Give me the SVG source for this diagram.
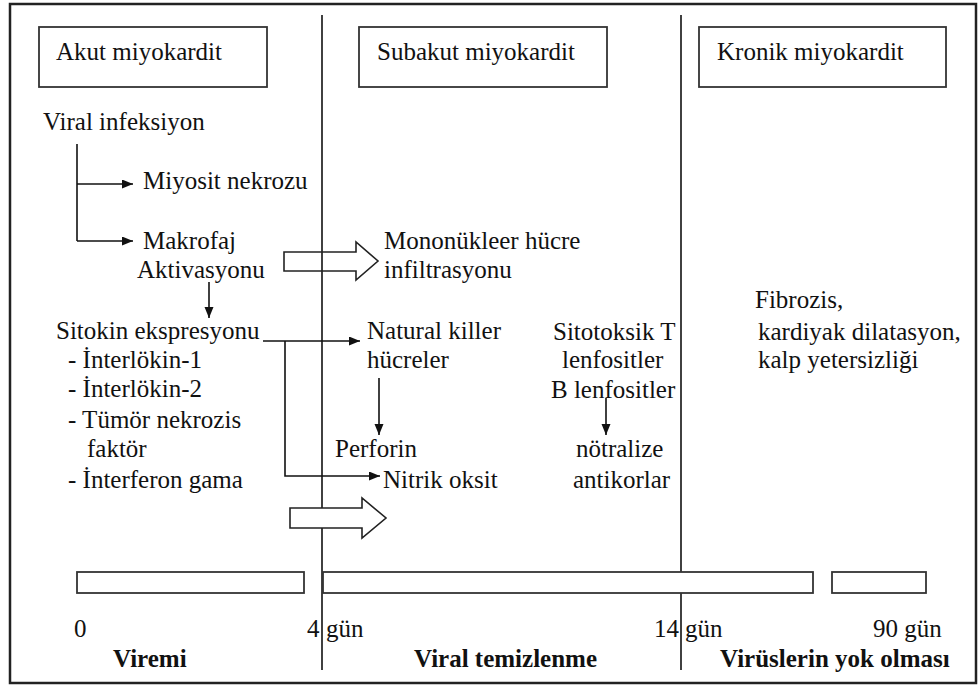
<svg xmlns="http://www.w3.org/2000/svg" width="979" height="686" viewBox="0 0 979 686">
<style>
text{font-family:"Liberation Serif","Times New Roman",serif;font-size:25px;fill:#111}
.b{font-weight:bold}
.ln{stroke:#111;stroke-width:1.6;fill:none}
.box{stroke:#333;stroke-width:1.8;fill:#fff}
.bar{stroke:#333;stroke-width:1.8;fill:#fff}
</style>
<defs>
<marker id="ah" markerUnits="userSpaceOnUse" markerWidth="12" markerHeight="10" refX="11" refY="4.5" orient="auto">
<path d="M0,0 L11,4.5 L0,9 Z" fill="#111"/>
</marker>
</defs>
<rect x="0" y="0" width="979" height="686" fill="#fff"/>
<rect x="10" y="4" width="966" height="679" fill="none" stroke="#222" stroke-width="2.5"/>
<g id="dividers">
<line class="ln" x1="322" y1="15" x2="322" y2="670"/>
<line class="ln" x1="681" y1="15" x2="681" y2="670"/>
</g>
<g id="akut"><rect class="box" x="39" y="27" width="228" height="60"/><text x="56" y="60">Akut miyokardit</text></g>
<g id="subakut"><rect class="box" x="359" y="27" width="248" height="60"/><text x="377" y="60">Subakut miyokardit</text></g>
<g id="kronik"><rect class="box" x="699" y="27" width="247" height="60"/><text x="717" y="60">Kronik miyokardit</text></g>
<g id="viral"><text x="43" y="130">Viral infeksiyon</text></g>
<g id="miyosit"><text x="143" y="189">Miyosit nekrozu</text></g>
<g id="makrofaj"><text x="143" y="249">Makrofaj</text><text x="137" y="278">Aktivasyonu</text></g>
<g id="mononukleer"><text x="384" y="249">Mononükleer hücre</text><text x="384" y="278">infiltrasyonu</text></g>
<g id="sitokin">
<text x="56" y="339">Sitokin ekspresyonu</text>
<text x="68" y="368">- İnterlökin-1</text>
<text x="68" y="397">- İnterlökin-2</text>
<text x="68" y="428">- Tümör nekrozis</text>
<text x="87" y="457">faktör</text>
<text x="68" y="488">- İnterferon gama</text>
</g>
<g id="nk"><text x="367" y="339">Natural killer</text><text x="367" y="368">hücreler</text></g>
<g id="perforin"><text x="335" y="457">Perforin</text></g>
<g id="nitrik"><text x="383" y="488">Nitrik oksit</text></g>
<g id="tlenf"><text x="553" y="340">Sitotoksik T</text><text x="562" y="368">lenfositler</text></g>
<g id="blenf"><text x="551" y="398">B lenfositler</text></g>
<g id="notralize"><text x="576" y="457">nötralize</text><text x="573" y="488">antikorlar</text></g>
<g id="fibrozis"><text x="755" y="308">Fibrozis,</text><text x="758" y="340">kardiyak dilatasyon,</text><text x="758" y="368">kalp yetersizliği</text></g>
<g id="connectors">
<polyline class="ln" points="77,144 77,241"/>
<line class="ln" x1="77" y1="184" x2="133" y2="184" marker-end="url(#ah)"/>
<line class="ln" x1="77" y1="241" x2="133" y2="241" marker-end="url(#ah)"/>
<line class="ln" x1="209" y1="282" x2="209" y2="318" marker-end="url(#ah)"/>
<line class="ln" x1="263" y1="341" x2="360" y2="341" marker-end="url(#ah)"/>
<polyline class="ln" points="285,341 285,476 380,476" marker-end="url(#ah)"/>
<line class="ln" x1="379" y1="378" x2="379" y2="435" marker-end="url(#ah)"/>
<line class="ln" x1="606" y1="398" x2="606" y2="435" marker-end="url(#ah)"/>
<path d="M284,252 L356,252 L356,242 L378,261 L356,280 L356,271 L284,271 Z" fill="none" stroke="#222" stroke-width="1.6"/>
<path d="M290,508 L362,508 L362,498 L386,518 L362,538 L362,528 L290,528 Z" fill="#fff" stroke="#222" stroke-width="1.6"/>
</g>
<g id="timeline">
<rect class="bar" x="77" y="572" width="227" height="21"/>
<rect class="bar" x="323" y="572" width="490" height="21"/>
<rect class="bar" x="832" y="572" width="94" height="21"/>
<text x="74" y="637">0</text>
<text x="307" y="637">4</text><text x="326" y="637">gün</text>
<text x="654" y="637">14</text><text x="685" y="637">gün</text>
<text x="873" y="637">90 gün</text>
<text class="b" x="113" y="667">Viremi</text>
<text class="b" x="414" y="667">Viral temizlenme</text>
<text class="b" x="720" y="667">Virüslerin yok olması</text>
</g>
</svg>
